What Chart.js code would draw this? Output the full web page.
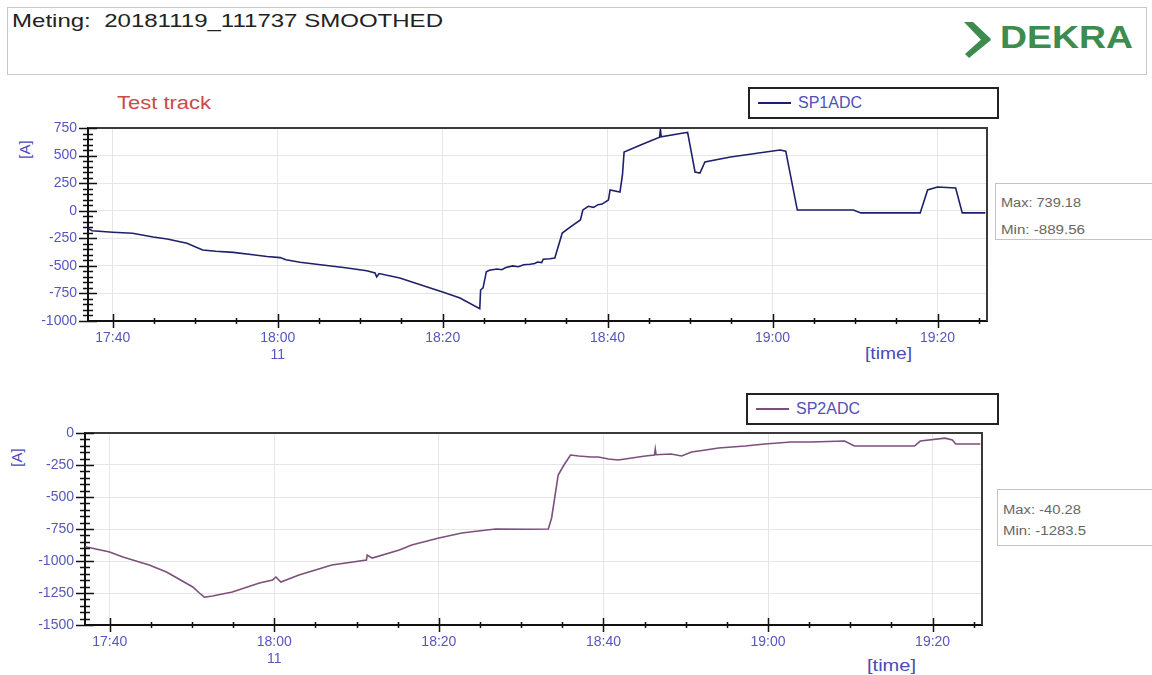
<!DOCTYPE html>
<html>
<head>
<meta charset="utf-8">
<script src="https://cdn.jsdelivr.net/npm/chart.js@4/dist/chart.umd.min.js"></script>
<style>
  body { margin: 0; background: #fff; font-family: "Liberation Sans", Arial, sans-serif; }
  #page { position: relative; width: 1152px; height: 675px; overflow: hidden; }
  .abs { position: absolute; white-space: pre; }
  .fit { display: inline-block; transform-origin: left center; }
  #header { left: 7px; top: 7px; width: 1138px; height: 66px; border: 1px solid #c8c8c8; }
  .legend { position: absolute; border: 2px solid #222; height: 28px; box-sizing: border-box; }
  .legend .swatch { position: absolute; left: 8px; top: 13px; width: 33px; height: 1.5px; }
  .legend .name { position: absolute; left: 48px; top: 4px; font-size: 16px; color: #5050b8; }
  .stats { position: absolute; border: 1px solid #c4c4c4; width: 170px; height: 55px; font-size: 12px; color: #666; }
  .yunit { font-size: 15px; color: #4a4ab8; transform: rotate(-90deg); transform-origin: center; }
  .xunit { font-size: 16px; color: #4a4ab8; }
  canvas { position: absolute; left: 0; }
</style>
</head>
<body>
<div id="page">
  <div id="header" class="abs"></div>
  <span class="abs fit" data-w="431" style="left:12px; top:10px; font-size:19px; color:#222;">Meting:  20181119_111737 SMOOTHED</span>
  <svg class="abs" style="left:960px; top:18px;" width="36" height="44">
    <polygon points="4,4 13,4 31,21 25,26" fill="#3d8b4f"/>
    <polygon points="25,18 31,22 9,40 5,36" fill="#3d8b4f"/>
  </svg>
  <span class="abs fit" data-w="133" style="left:1000px; top:20px; font-size:31px; font-weight:bold; color:#3d8b4f;">DEKRA</span>

  <span class="abs fit" data-w="94" style="left:117px; top:93px; font-size:18px; color:#cc4a4a;">Test track</span>

  <div class="legend" style="left:748px; top:87px; width:251px; height:32px;">
    <span class="swatch" style="background:#1f1f6b;"></span>
    <span class="name" style="top:5px;">SP1ADC</span>
  </div>
  <div class="legend" style="left:746px; top:393px; width:253px; height:32px;">
    <span class="swatch" style="background:#7d4f7d;"></span>
    <span class="name" style="top:5px;">SP2ADC</span>
  </div>

  <div class="stats" style="left:995px; top:183px;">
    <span class="abs fit" data-w="80" style="left:5px; top:12px;">Max: 739.18</span>
    <span class="abs fit" data-w="84" style="left:5px; top:39px;">Min: -889.56</span>
  </div>
  <div class="stats" style="left:997px; top:489px;">
    <span class="abs fit" data-w="78" style="left:5px; top:13px;">Max: -40.28</span>
    <span class="abs fit" data-w="83" style="left:5px; top:34px;">Min: -1283.5</span>
  </div>

  <span class="abs yunit" style="left:15px; top:141px;">[A]</span>
  <span class="abs yunit" style="left:7px; top:449px;">[A]</span>
  <span class="abs fit xunit" data-w="47" style="left:865px; top:345px;">[time]</span>
  <span class="abs fit xunit" data-w="49" style="left:867px; top:657px;">[time]</span>

  <canvas id="chartTop" width="1000" height="250" style="top:118px;"></canvas>
  <canvas id="chartBottom" width="1000" height="252" style="top:423px;"></canvas>
</div>

<script>
// Time axis range
const timeMin = "17:37:00";
const timeMax = "19:26:00";

// SP1ADC (top chart)
const sp1Times = [
  "17:37:00", "17:37:30", "17:40:00", "17:42:24", "17:44:54", "17:46:36", "17:49:00",
  "17:50:54", "17:52:30", "17:54:36", "17:57:00", "17:58:42", "18:00:18", "18:01:00",
  "18:02:42", "18:06:42", "18:08:00", "18:10:48", "18:11:48", "18:12:00", "18:12:18",
  "18:14:48", "18:18:30", "18:20:00", "18:22:06", "18:24:30", "18:24:36", "18:24:54",
  "18:25:18", "18:25:40", "18:26:36", "18:27:10", "18:27:40", "18:28:30", "18:29:10",
  "18:29:50", "18:30:36", "18:31:10", "18:31:30", "18:32:00", "18:32:12", "18:33:00",
  "18:33:36", "18:34:30", "18:35:30", "18:36:42", "18:37:00", "18:37:40", "18:38:18",
  "18:38:50", "18:39:20", "18:40:06", "18:40:18", "18:41:30", "18:41:48", "18:42:00",
  "18:44:00", "18:46:18", "18:46:24", "18:46:30", "18:49:12", "18:49:42", "18:50:24",
  "18:50:36", "18:51:12", "18:51:48", "18:54:54", "19:00:54", "19:01:36", "19:03:00",
  "19:09:48", "19:10:42", "19:17:54", "19:18:48", "19:20:00", "19:22:12", "19:23:00",
  "19:25:48"
];
const sp1Values = [
  -160, -182, -195, -205, -238, -256, -295,
  -356, -368, -378, -400, -415, -425, -445,
  -468, -503, -515, -545, -565, -600, -570,
  -610, -701, -737, -791, -889, -719, -700,
  -553, -540, -528, -535, -515, -500, -508,
  -490, -485, -478, -465, -470, -440, -435,
  -428, -202, -147, -84, 7, 40, 30,
  55, 60, 97, 188, 170, 324, 532,
  596, 666, 739, 670, 705, 710, 432,
  351, 342, 442, 487, 551, 540, 6,
  6, -20, -20, 188, 215, 206, -20,
  -20
];

// SP2ADC (bottom chart)
const sp2Times = [
  "17:37:00", "17:37:12", "17:40:00", "17:41:36", "17:44:48", "17:46:54", "17:50:06",
  "17:50:54", "17:51:30", "17:52:30", "17:54:54", "17:58:12", "17:59:48", "18:00:12",
  "18:00:48", "18:03:00", "18:07:00", "18:11:12", "18:11:18", "18:11:54", "18:15:12",
  "18:16:42", "18:20:00", "18:22:48", "18:24:48", "18:26:54", "18:30:54", "18:33:18",
  "18:33:42", "18:34:30", "18:35:12", "18:36:00", "18:37:00", "18:38:30", "18:39:24",
  "18:40:36", "18:41:48", "18:45:06", "18:46:12", "18:46:18", "18:46:24", "18:48:12",
  "18:49:30", "18:50:42", "18:52:24", "18:54:00", "18:57:12", "18:59:36", "19:02:48",
  "19:05:12", "19:09:18", "19:10:30", "19:17:48", "19:18:30", "19:21:30", "19:22:24",
  "19:22:48", "19:25:48"
];
const sp2Values = [
  -885, -891, -930, -969, -1031, -1086, -1203,
  -1250, -1283, -1273, -1242, -1172, -1148, -1125,
  -1164, -1109, -1031, -992, -953, -977, -914,
  -875, -820, -781, -766, -750, -752, -750,
  -664, -328, -250, -172, -180, -188, -188,
  -203, -211, -180, -172, -125, -170, -164,
  -180, -148, -133, -117, -102, -86, -70,
  -70, -63, -102, -102, -63, -40, -55,
  -86, -86
];

const tickColor = "#5656c0";
const gridColor = "#e6e6e6";

function toMinutes(t) {
  const [h, m, s] = t.split(":").map(Number);
  return h * 60 + m + s / 60;
}

function formatMinutes(v) {
  const h = Math.floor(v / 60);
  const m = Math.round(v - h * 60);
  return `${h}:${String(m).padStart(2, "0")}`;
}

// Draws the frame on top/right and the ladder of tick marks on both axes
const frameAndTicks = {
  id: "frameAndTicks",
  afterDraw(chart) {
    const { ctx, chartArea: a, scales: { x, y } } = chart;
    ctx.save();
    ctx.strokeStyle = "#3a3a3a";
    ctx.lineWidth = 2;
    ctx.beginPath();
    ctx.moveTo(a.left, a.top);
    ctx.lineTo(a.right, a.top);
    ctx.lineTo(a.right, a.bottom);
    ctx.stroke();

    ctx.strokeStyle = "#111";
    ctx.lineWidth = 1.5;
    ctx.beginPath();
    x.ticks.forEach((t) => {
      const px = Math.round(x.getPixelForValue(t.value)) + 0.5;
      const h = t.value % 20 === 0 ? 7 : 3;
      ctx.moveTo(px, a.bottom - h);
      ctx.lineTo(px, a.bottom + h);
    });
    for (let v = y.min; v <= y.max; v += 50) {
      const py = Math.round(y.getPixelForValue(v)) + 0.5;
      const w = v % 250 === 0 ? 9 : 5;
      ctx.moveTo(a.left - w, py);
      ctx.lineTo(a.left + w, py);
    }
    ctx.stroke();
    ctx.restore();
  },
};

function makeChart(canvasId, times, values, color, yMin, yMax, axisWidth, axisHeight, padRight) {
  const ctx = document.getElementById(canvasId).getContext("2d");
  const xMin = toMinutes(timeMin);
  const xMax = toMinutes(timeMax);

  return new Chart(ctx, {
    type: "line",
    data: {
      datasets: [
        {
          data: times.map((t, i) => ({ x: toMinutes(t), y: values[i] })),
          borderColor: color,
          borderWidth: 1.6,
          pointRadius: 0,
          tension: 0,
          fill: false,
        },
      ],
    },
    options: {
      responsive: false,
      animation: false,
      devicePixelRatio: 1,
      layout: { padding: { top: 10, right: padRight, left: 0, bottom: 0 } },
      plugins: { legend: { display: false }, tooltip: { enabled: false } },
      scales: {
        x: {
          type: "linear",
          min: xMin,
          max: xMax,
          afterBuildTicks: (scale) => {
            const ticks = [];
            for (let v = Math.ceil(xMin / 5) * 5; v <= xMax; v += 5) ticks.push({ value: v });
            scale.ticks = ticks;
          },
          afterFit: (scale) => {
            scale.height = axisHeight;
            scale.paddingLeft = 0;
            scale.paddingRight = 0;
          },
          border: { color: "#111", width: 2 },
          grid: {
            drawTicks: false,
            color: (c) => (c.tick && c.tick.value % 20 === 0 ? gridColor : "rgba(0,0,0,0)"),
          },
          ticks: {
            autoSkip: false,
            maxRotation: 0,
            padding: 9,
            color: tickColor,
            font: { family: "Liberation Sans", size: 14 },
            callback: (value) => {
              if (value % 20 !== 0) return "";
              const label = formatMinutes(value);
              return value === 18 * 60 ? [label, "11"] : label;
            },
          },
        },
        y: {
          min: yMin,
          max: yMax,
          afterFit: (scale) => {
            scale.width = axisWidth;
            scale.paddingTop = 0;
            scale.paddingBottom = 0;
          },
          border: { color: "#111", width: 2 },
          grid: { drawTicks: false, color: gridColor },
          ticks: {
            stepSize: 250,
            padding: 11,
            color: tickColor,
            font: { family: "Liberation Sans", size: 14 },
            callback: (value) => String(value),
          },
        },
      },
    },
    plugins: [frameAndTicks],
  });
}

document.addEventListener("DOMContentLoaded", () => {
  // stretch html labels to the widths seen in the original
  document.querySelectorAll("[data-w]").forEach((el) => {
    const w = el.getBoundingClientRect().width;
    el.style.transform = `scaleX(${el.dataset.w / w})`;
  });

  makeChart("chartTop", sp1Times, sp1Values, "#1f1f6b", -1000, 750, 88, 47, 13);
  makeChart("chartBottom", sp2Times, sp2Values, "#7d4f7d", -1500, 0, 85, 50, 18);
});
</script>
</body>
</html>
